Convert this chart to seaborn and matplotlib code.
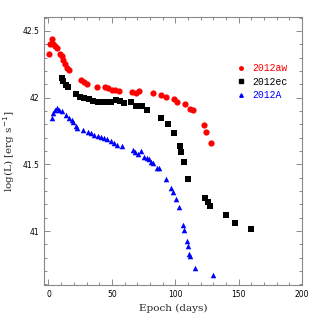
import numpy as np
import pandas as pd
import seaborn as sns
import matplotlib.pyplot as plt
from matplotlib.lines import Line2D
from matplotlib.ticker import MultipleLocator

# SN 2012aw
aw_epoch = [0.2, 0.9, 2.5, 3.3, 5.1, 6.9, 9.1, 10.4, 11.7, 13.3, 14.6, 16.2,
            25.4, 28.0, 30.6, 38.5, 44.6, 46.7, 49.9, 52.5, 55.7, 66.2, 69.1,
            71.7, 82.7, 88.6, 92.5, 99.3, 101.4, 107.5, 111.7, 114.3, 122.8,
            124.6, 128.5]
aw_logL = [42.33, 42.40, 42.44, 42.40, 42.39, 42.375, 42.33, 42.31, 42.28,
           42.25, 42.225, 42.205, 42.13, 42.12, 42.10, 42.08, 42.08, 42.07,
           42.06, 42.056, 42.05, 42.04, 42.037, 42.048, 42.037, 42.022,
           42.005, 41.99, 41.97, 41.95, 41.917, 41.905, 41.795, 41.74, 41.66]

# SN 2012ec
ec_epoch = [10.7, 11.8, 13.8, 15.8, 22.1, 24.9, 28.0, 31.6, 34.9, 38.8, 43.3,
            46.2, 49.1, 53.3, 56.4, 59.8, 65.1, 68.8, 73.8, 77.5, 89.0, 93.9,
            98.8, 103.8, 104.8, 106.7, 109.9, 123.8, 125.7, 127.7, 139.9,
            147.0, 159.6]
ec_logL = [42.15, 42.125, 42.095, 42.08, 42.024, 42.005, 41.997, 41.988,
           41.977, 41.967, 41.97, 41.97, 41.97, 41.98, 41.977, 41.962, 41.965,
           41.94, 41.94, 41.91, 41.85, 41.80, 41.733, 41.637, 41.595, 41.515,
           41.39, 41.25, 41.217, 41.19, 41.12, 41.057, 41.017]

# SN 2012A
a_epoch = [2.4, 3.7, 5.0, 6.7, 8.7, 10.9, 13.8, 16.2, 18.2, 19.6, 21.5, 22.7,
           27.2, 31.4, 33.6, 35.9, 38.7, 41.2, 43.8, 46.4, 49.1, 51.7, 54.3,
           57.8, 66.7, 68.3, 70.9, 73.0, 75.0, 77.5, 79.3, 80.7, 82.7, 85.3,
           87.2, 92.8, 96.7, 98.5, 100.9, 102.8, 106.0, 107.0, 109.1, 109.9,
           111.2, 112.0, 115.9, 130.1]
a_logL = [41.845, 41.883, 41.91, 41.926, 41.907, 41.898, 41.867, 41.85,
          41.836, 41.82, 41.79, 41.77, 41.757, 41.746, 41.735, 41.72, 41.715,
          41.707, 41.70, 41.69, 41.673, 41.658, 41.645, 41.635, 41.61, 41.594,
          41.577, 41.602, 41.557, 41.545, 41.538, 41.52, 41.507, 41.47, 41.47,
          41.387, 41.32, 41.29, 41.24, 41.177, 41.047, 41.007, 40.925, 40.89,
          40.825, 40.81, 40.72, 40.67]

sn_names = ["2012aw", "2012ec", "2012A"]
sn_colors = ["red", "black", "blue"]
sn_markers = ["o", "s", "^"]
sn_sizes = [20, 13, 16]

df = pd.concat([
    pd.DataFrame({"epoch": aw_epoch, "logL": aw_logL, "sn": "2012aw"}),
    pd.DataFrame({"epoch": ec_epoch, "logL": ec_logL, "sn": "2012ec"}),
    pd.DataFrame({"epoch": a_epoch, "logL": a_logL, "sn": "2012A"}),
])

sns.set_style("ticks")
fig = plt.figure(figsize=(3.19, 3.19), dpi=100)
ax = fig.add_axes([0.138, 0.107, 0.809, 0.840])

for name, col, mk, sz in zip(sn_names, sn_colors, sn_markers, sn_sizes):
    sub = df[df["sn"] == name]
    sns.scatterplot(data=sub, x="epoch", y="logL", color=col, marker=mk,
                    s=sz, linewidth=0, ax=ax, legend=False)

ax.set_xlim(-3.5, 200)
ax.set_ylim(40.597, 42.605)
ax.xaxis.set_major_locator(MultipleLocator(50))
ax.xaxis.set_minor_locator(MultipleLocator(10))
ax.yaxis.set_major_locator(MultipleLocator(0.5))
ax.yaxis.set_minor_locator(MultipleLocator(0.1))
ax.xaxis.set_major_formatter(plt.FuncFormatter(lambda v, p: f"{v:g}"))
ax.yaxis.set_major_formatter(plt.FuncFormatter(lambda v, p: f"{v:g}"))
ax.tick_params(which="both", direction="in", top=True, right=True,
               colors="#777777", labelcolor="black", labelsize=5.5, width=0.6)
ax.tick_params(which="major", length=4)
ax.tick_params(which="minor", length=2)
for sp in ax.spines.values():
    sp.set_color("#888888")
    sp.set_linewidth(0.8)

ax.set_xlabel("Epoch (days)", family="DejaVu Serif", fontsize=7.5)
ax.set_ylabel("log(L) [erg s$^{-1}$]", family="DejaVu Serif", fontsize=7.5)

handles = [Line2D([], [], linestyle="", marker=m, color=c, markersize=2.5)
           for m, c in zip(sn_markers, sn_colors)]
leg = ax.legend(handles, sn_names, loc="upper left",
                bbox_to_anchor=(0.717, 0.86), frameon=False, handlelength=0.6,
                handletextpad=0.9, labelspacing=0.35,
                prop={"family": "Liberation Mono", "size": 7})
for t, c in zip(leg.get_texts(), sn_colors):
    t.set_color(c)

fig.savefig("out.png", dpi=100)
